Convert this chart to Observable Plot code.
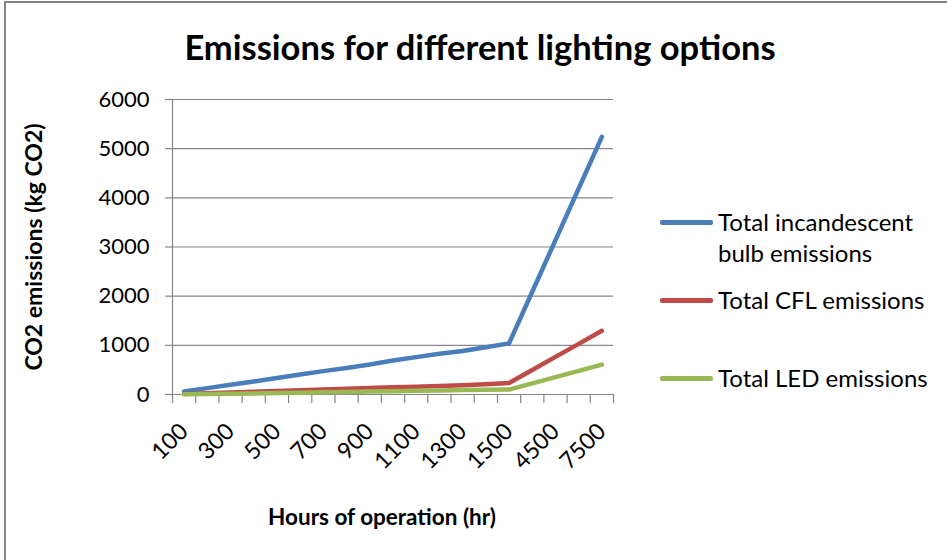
<!DOCTYPE html>
<html><head><meta charset="utf-8">
<script src="https://cdn.jsdelivr.net/npm/d3@7"></script>
<script src="https://cdn.jsdelivr.net/npm/@observablehq/plot@0.6"></script>
<style>
body{margin:0;background:#fff;}
#wrap{position:relative;width:947px;height:560px;overflow:hidden;font-family:Lato, "Open Sans", sans-serif;background:#fff;}
#frame{position:absolute;left:4px;top:1px;width:960px;height:620px;border-left:2px solid #858585;border-top:2px solid #858585;}
.t{position:absolute;white-space:nowrap;color:#000;line-height:1;}
.sw{position:absolute;height:5px;border-radius:2px;}
</style></head><body>
<div id="wrap">
  <div id="frame"></div>
  <div id="chart" style="position:absolute;left:0;top:0"></div>
  <div class="t" id="title" style="left:480px;top:47px;transform:translate(-50%,-50%);font-size:34.5px;font-weight:700;">Emissions for different lighting options</div>
  <div class="t" id="ylab" style="left:33px;top:247px;transform:translate(-50%,-50%) rotate(-90deg);font-size:23px;font-weight:700;">CO2 emissions (kg CO2)</div>
  <div class="t" id="xlab" style="left:382px;top:517px;transform:translate(-50%,-50%);font-size:22.5px;font-weight:700;">Hours of operation (hr)</div>
  <div id="legend"></div>
</div>
<script>
// ---- data ----
const hours = ["100","200","300","400","500","600","700","800","900","1000","1100","1200","1300","1400","1500","3000","4500","6000","7500"];
const incandescent = [60,130,200,265,335,405,475,540,610,690,760,830,885,960,1040,2090,3140,4190,5240];
const cfl = [12,25,40,55,70,85,100,115,130,145,160,175,190,210,235,500,765,1030,1295];
const led = [5,10,15,22,30,37,45,52,60,67,75,82,90,97,100,227,353,480,607];
const seriesNames = ["Total incandescent bulb emissions","Total CFL emissions","Total LED emissions"];
const seriesColors = ["#4A7EBB","#BE4B48","#98B954"];
const yTicks = [0,1000,2000,3000,4000,5000,6000];
const xLabelIdx = [0,2,4,6,8,10,12,14,16,18];

const seriesValues = [incandescent, cfl, led];
const data = [];
seriesValues.forEach((vals, s) => vals.forEach((v, i) => data.push({i, hours: hours[i], value: v, series: seriesNames[s]})));
const boundaries = d3.range(hours.length + 1).map(k => k - 0.5);

const chart = Plot.plot({
  width: 947, height: 560,
  marginLeft: 172, marginRight: 334, marginTop: 99, marginBottom: 166,
  x: {type: "linear", domain: [-0.5, hours.length - 0.5]},
  y: {domain: [0, 6000]},
  color: {domain: seriesNames, range: seriesColors},
  style: {fontFamily: "Lato, 'Open Sans', sans-serif", fontSize: "22px", color: "#000", background: "transparent", overflow: "visible"},
  marks: [
    Plot.gridY(yTicks, {stroke: "#868686", strokeOpacity: 1, strokeWidth: 1.2}),
    Plot.ruleX([-0.5], {y1: 0, y2: 6000, stroke: "#868686", strokeWidth: 1.2}),
    Plot.axisY(yTicks, {tickSize: 7, tickPadding: 16, stroke: "#868686", strokeWidth: 1.2, label: null, fill: "#000", fontSize: 22, tickFormat: d => String(d)}),
    Plot.axisX(boundaries, {tickSize: 9, tickFormat: () => "", stroke: "#868686", strokeWidth: 1.2, label: null}),
    Plot.axisX(xLabelIdx, {tickSize: 0, tickPadding: 33, tickRotate: -45, tickFormat: i => hours[i], label: null, fill: "#000", fontSize: 23}),
    Plot.line(data, {x: "i", y: "value", z: "series", stroke: "series", strokeWidth: 4.5, strokeLinecap: "round", strokeLinejoin: "round"})
  ]
});
document.getElementById("chart").appendChild(chart);

// legend
const leg = document.getElementById("legend");
const legendRows = [
  {lines: ["Total incandescent", "bulb emissions"], y: 222},
  {lines: ["Total CFL emissions"], y: 300},
  {lines: ["Total LED emissions"], y: 378}
];
legendRows.forEach((r, k) => {
  const sw = document.createElement("div");
  sw.className = "sw";
  sw.style.cssText = `left:660px;top:${r.y - 2.5}px;width:53px;background:${seriesColors[k]};`;
  leg.appendChild(sw);
  r.lines.forEach((txt, j) => {
    const t = document.createElement("div");
    t.className = "t";
    t.textContent = txt;
    t.style.cssText = `left:718px;top:${r.y + j * 31}px;transform:translateY(-50%);font-size:24px;`;
    leg.appendChild(t);
  });
});
</script>
</body></html>
